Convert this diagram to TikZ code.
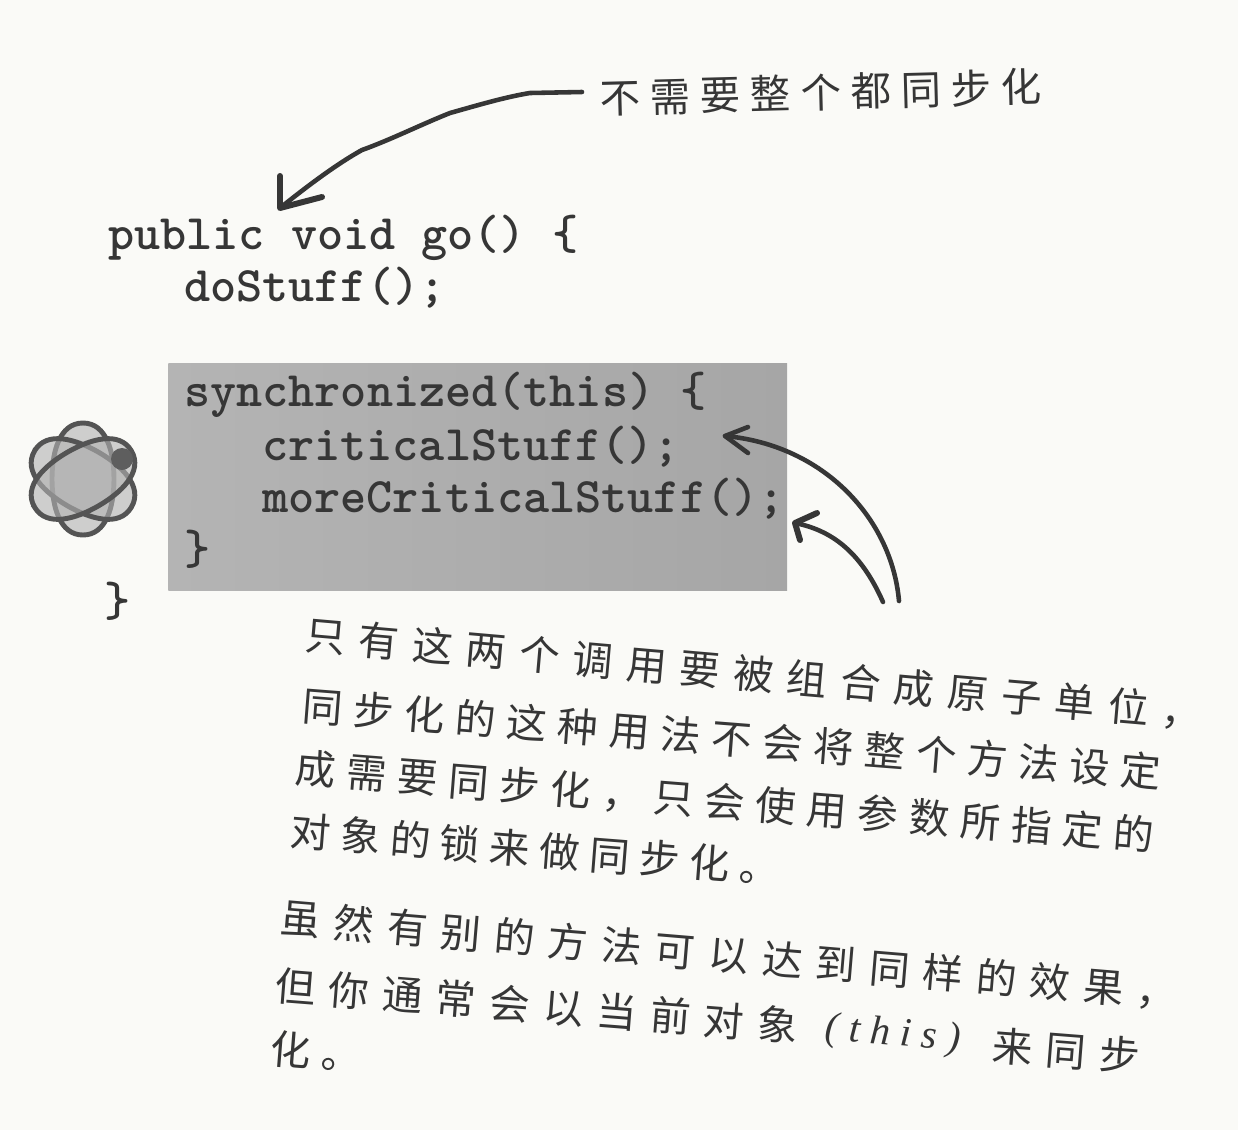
\documentclass[tikz,border=0pt]{standalone}
\usepackage{fontspec}
\newfontfamily\cjknarrow[LetterSpace=24]{Noto Sans CJK SC}
\newfontfamily\cjkmid[LetterSpace=27]{Noto Sans CJK SC}
\newfontfamily\cjkwide[LetterSpace=33]{Noto Sans CJK SC}
\newfontfamily\thisfont[LetterSpace=25]{Liberation Serif}
\newcommand{\fwcomma}{\char"FF0C\relax}
\usetikzlibrary{positioning}
\definecolor{paperbg}{HTML}{FAFAF7}
\definecolor{inkgray}{HTML}{363636}
\definecolor{boxleft}{HTML}{B4B4B4}
\definecolor{boxright}{HTML}{A6A6A6}
\tikzset{
  codeline/.style={anchor=base west,inner sep=0pt,font=\fontsize{28.3pt}{30pt}\ttfamily\bfseries\addfontfeature{FakeBold=2},text=inkgray},
  noteline/.style={anchor=west,inner sep=0pt,rotate=-4.5,font=\fontsize{23pt}{24pt}\cjkmid,text=inkgray},
  widenote/.style={noteline,font=\fontsize{23pt}{24pt}\cjkwide},
  slimnote/.style={noteline,font=\fontsize{23pt}{24pt}\cjknarrow},
  penline/.style={draw=inkgray,line width=2.6pt,line cap=round,line join=round},
  petal/.style={draw=inkgray!85,line width=2.8pt,fill=gray!60,fill opacity=0.6}
}
\begin{document}
\begin{tikzpicture}[x=0.02cm,y=-0.02cm]
\useasboundingbox (0,0) rectangle (1238,1130);
\fill [paperbg] (0,0) rectangle (1238,1130);
% shaded block
\node (syncbox) [left color=boxleft,right color=boxright,minimum width=12.38cm,minimum height=4.54cm,inner sep=0pt,anchor=north west] at (168,363) {};
% atom
\coordinate (atom) at (83,479);
\foreach \ang in {0,60,120}
  \draw [petal,shift={(atom)},rotate=\ang] (0,-56) .. controls (24,-56) and (31,-26) .. (31,0) .. controls (31,26) and (24,56) .. (0,56) .. controls (-24,56) and (-31,26) .. (-31,0) .. controls (-31,-26) and (-24,-56) .. cycle;
\fill [inkgray!80] (122,459) circle (11);
% code
\node (sigline) [codeline] at (108,249) {public void go() \{};
\node (dostuff) [codeline] at (184,301) {doStuff();};
\node (syncline) [codeline] at (184,406) {synchronized(this) \{};
\node (critline) [codeline] at (262,460) {criticalStuff();};
\node (moreline) [codeline] at (262,512) {moreCriticalStuff();};
\node (syncend) [codeline] at (184,564) {\}};
\node (goend) [codeline] at (104,616) {\}};
% notes
\node (topnote) [slimnote,rotate=6] at (600,98) {不需要整个都同步化};
\node (noteA) [widenote,rotate=-0.5] at (305,635) {只有这两个调用要被组合成原子单位\fwcomma};
\node (noteB) [noteline] at (302,705) {同步化的这种用法不会将整个方法设定};
\node (noteC) [noteline] at (295,768) {成需要同步化\fwcomma 只会使用参数所指定的};
\node (noteD) [slimnote] at (290,830) {对象的锁来做同步化。};
\node (noteE) [widenote,rotate=-0.3] at (280,918) {虽然有别的方法可以达到同样的效果\fwcomma};
\node (noteFa) [widenote] at (275,985) {但你通常会以当前对象};
\node (noteFb) [noteline,font=\fontsize{23pt}{24pt}\thisfont\itshape] at (825,1030) {(this)};
\node (noteFc) [widenote] at (992,1045) {来同步};
\node (noteG) [noteline] at (270,1048) {化。};
% pen arrows
\coordinate (topstart) at (582,92);
\coordinate (toptip) at (280,208);
\coordinate (critstart) at (899,601);
\coordinate (crittip) at (725,436);
\coordinate (morestart) at (883,602);
\coordinate (moretip) at (795,523);
\draw [penline] (topstart) -- (530,93) .. controls (505,97) and (475,106) .. (450,113) .. controls (420,125) and (390,140) .. (362,150) .. controls (335,165) and (305,188) .. (toptip);
\draw [penline,line width=3.4pt] (280,176) -- (toptip) -- (322,197);
\draw [penline] (critstart) .. controls (892,520) and (825,445) .. (crittip);
\draw [penline] (748,427) -- (crittip) -- (748,453);
\draw [penline] (morestart) .. controls (860,550) and (830,530) .. (moretip);
\draw [penline,line width=3.4pt] (817,513) -- (moretip) -- (800,540);
\end{tikzpicture}
\end{document}
